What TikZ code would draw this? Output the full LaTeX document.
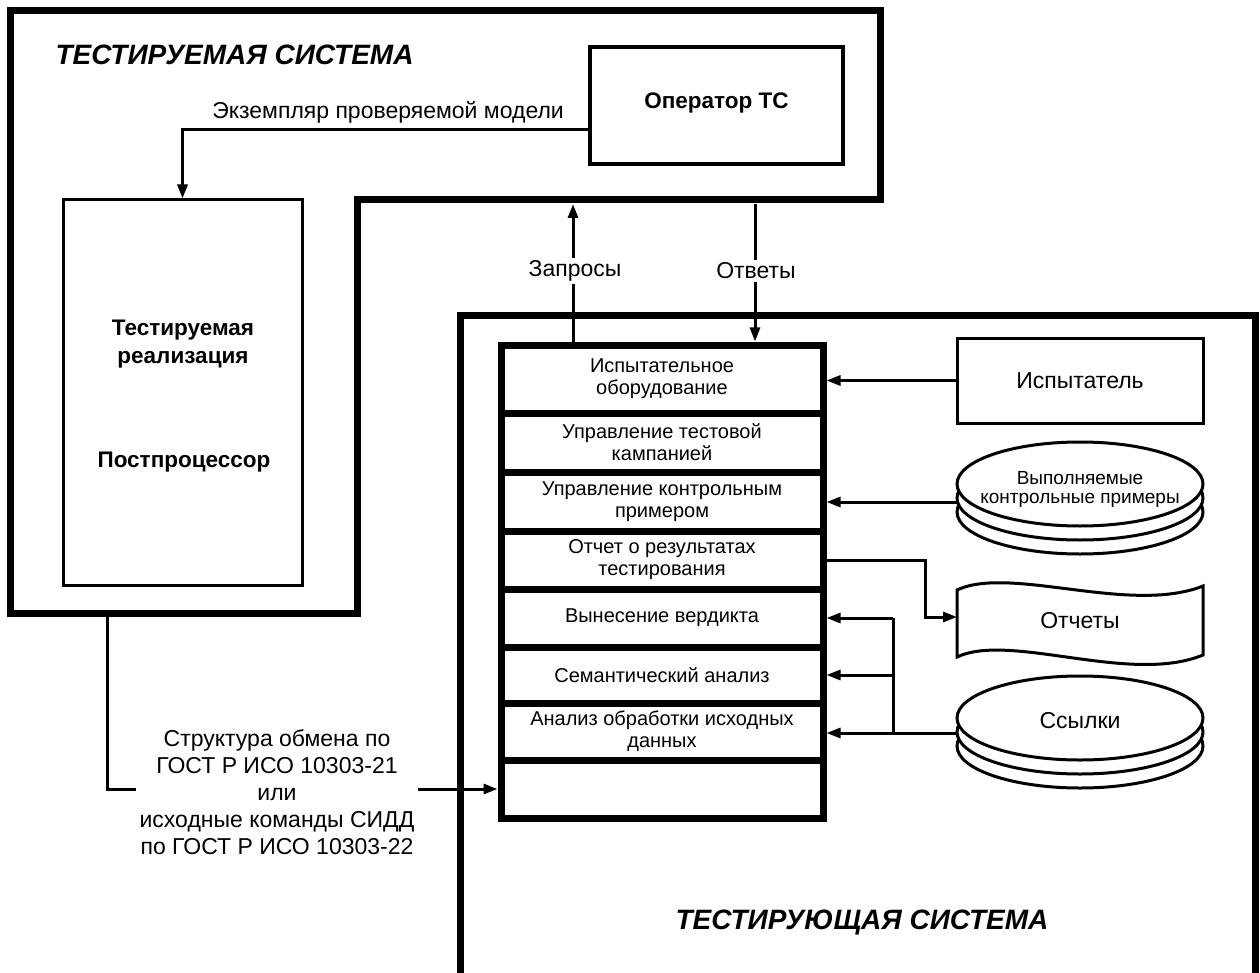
\documentclass[tikz,border=0pt]{standalone}
\usepackage{fontspec}
\setmainfont{Liberation Sans}
\usetikzlibrary{arrows.meta}
\begin{document}
\begin{tikzpicture}[x=1pt,y=-1pt,
  conn/.style={line width=3pt},
  arr/.style={line width=3pt,-{Triangle[length=14pt,width=10pt]}},
  frame/.style={line width=7pt},
  box/.style={draw,line width=3pt,inner sep=0pt},
  row/.style={draw,line width=7pt,minimum width=322pt,inner sep=0pt,align=center,font=\fontsize{20}{22}\selectfont},
  lbl/.style={font=\fontsize{23}{27}\selectfont,align=center},
  bl/.style={font=\bfseries\fontsize{22.5}{28}\selectfont,align=center},
  ttl/.style={font=\bfseries\itshape\fontsize{28}{32}\selectfont,anchor=base},
  gap/.style={fill=white,inner sep=3pt},
  disk/.style={draw,line width=3pt,fill=white}
]
\useasboundingbox (0,0) rectangle (1260,973);

% tested system frame
\draw[frame] (10,11) -- (880,11) -- (880,200) -- (357,200) -- (357,613) -- (10,613) -- cycle;
% testing system frame
\draw[frame] (460,990) -- (460,316) -- (1255,316) -- (1255,990);

\node[ttl] (t1) at (234.5,65) {ТЕСТИРУЕМАЯ СИСТЕМА};
\node[ttl] (t2) at (862,929) {ТЕСТИРУЮЩАЯ СИСТЕМА};

% operator
\node[box,line width=3.5pt,minimum width=253pt,minimum height=117pt] (op) at (716.5,105.5) {};
\node[bl] (opt) at (716.5,103) {Оператор ТС};

% tested implementation box
\node[box,minimum width=239pt,minimum height=385pt] (tb) at (182.5,392.5) {};
\node[bl] (tbt1) at (183,344) {Тестируемая\\реализация};
\node[bl] (tbt2) at (184,462) {Постпроцессор};

\draw[arr] (op.west |- 0,130) -| (tb.north);
\node[lbl] (ex) at (388,112) {Экземпляр проверяемой модели};

% stack
\node[row,minimum height=68pt] (r1) at (662,379) {Испытательное\\оборудование};
\node[row,minimum height=59pt] (r2) at (662,442.5) {Управление тестовой\\кампанией};
\node[row,minimum height=59pt] (r3) at (662,501.5) {Управление контрольным\\примером};
\node[row,minimum height=58pt] (r4) at (662,560) {Отчет о результатах\\тестирования};
\node[row,minimum height=58pt] (r5) at (662,618) {Вынесение вердикта};
\node[row,minimum height=56pt] (r6) at (662,675) {Семантический анализ};
\node[row,minimum height=57pt] (r7) at (662,731.5) {Анализ обработки исходных\\данных};
\node[row,minimum height=58pt] (r8) at (662,789) {};

% queries / answers
\coordinate (q) at (573,204);
\coordinate (a) at (755,204);
\draw[arr] (r1.north -| q) -- (q);
\draw[arr] (a) -- (r1.north -| a);
\node[lbl,gap] (qt) at (575,271) {Запросы};
\node[lbl,gap] (at) at (756,271) {Ответы};

% tester
\node[box,minimum width=246pt,minimum height=85pt,font=\fontsize{23}{27}\selectfont] (isp) at (1080,380.5) {Испытатель};
\draw[arr] (isp.west) -- (isp.west -| r1.east);

% executable test cases disk
\foreach \o in {28,14,0} \draw[disk] (1080,484+\o) ellipse (123 and 42);
\node[align=center,font=\fontsize{19}{19}\selectfont] (d1) at (1080,489) {Выполняемые\\контрольные примеры};
\coordinate (d1w) at (957,502);
\draw[arr] (d1w) -- (d1w -| r3.east);

% reports document
\draw[line width=3pt] (957,590) .. controls (1010,565) and (1130,615) .. (1203,586) -- (1203,655) .. controls (1130,685) and (1010,632) .. (957,657) -- cycle;
\node[lbl] (rep) at (1080,621) {Отчеты};
\coordinate (repw) at (957,617);
\draw[arr] (r4.east) -- (r4.east -| 925,0) |- (repw);

% references disk
\foreach \o in {28,14,0} \draw[disk] (1080,718+\o) ellipse (123 and 42);
\node[lbl] (ref) at (1080,721) {Ссылки};
\coordinate (refw) at (957,733);
\coordinate (jn) at (893,0);
\draw[arr] (refw) -- (refw -| r7.east);
\draw[conn] (jn |- refw) -- (jn |- r5.east);
\draw[arr] (jn |- r5.east) -- (r5.east);
\draw[arr] (jn |- r6.east) -- (r6.east);

% exchange structure
\coordinate (ts) at (107,617);
\draw[arr] (ts) |- (r8.west);
\node[lbl,gap,inner sep=4pt] (std) at (277,792) {Структура обмена по\\ГОСТ Р ИСО 10303-21\\или\\исходные команды СИДД\\по ГОСТ Р ИСО 10303-22};
\end{tikzpicture}
\end{document}
